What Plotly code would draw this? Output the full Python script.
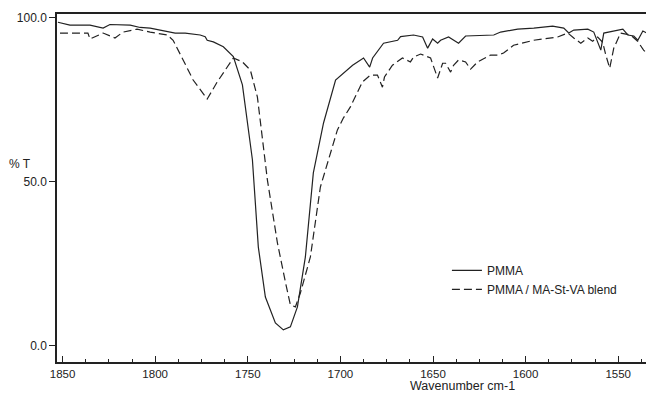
import plotly.graph_objects as go

# PMMA (solid)
pmma_wn = [1852.5, 1846.0, 1835.2, 1828.1, 1824.4, 1813.5, 1808.1, 1802.7, 1794.6, 1789.2,
           1783.8, 1775.7, 1773.0, 1771.9, 1768.6, 1763.2, 1757.8, 1752.9, 1747.5, 1744.3,
           1740.5, 1735.1, 1730.8, 1727.0, 1723.2, 1718.9, 1714.6, 1709.1, 1702.6, 1693.4,
           1687.5, 1684.2, 1682.6, 1676.7, 1669.1, 1667.5, 1660.5, 1655.6, 1652.9, 1650.2,
           1647.5, 1645.9, 1641.6, 1636.2, 1632.4, 1617.2, 1613.5, 1604.3, 1595.6, 1585.4,
           1579.4, 1576.7, 1574.0, 1566.4, 1563.2, 1559.4, 1557.8, 1550.2, 1547.5, 1544.8,
           1541.6, 1539.4, 1536.7, 1534.6]
pmma_t = [98.6, 97.7, 97.7, 96.8, 97.9, 97.7, 97.0, 96.8, 95.9, 95.3,
          95.3, 94.7, 94.2, 93.1, 92.6, 91.1, 88.1, 79.5, 56.7, 30.1,
          14.9, 7.0, 4.9, 5.8, 11.9, 27.1, 52.7, 67.9, 81.0, 85.5,
          87.7, 84.9, 87.7, 92.2, 93.1, 94.2, 94.7, 94.1, 90.7, 93.5,
          92.2, 93.1, 94.1, 92.2, 94.4, 94.7, 95.6, 96.5, 96.8, 97.4,
          96.8, 95.3, 96.2, 96.5, 95.6, 90.1, 95.3, 96.2, 96.5, 94.7,
          94.4, 93.1, 95.9, 95.3]

# PMMA / MA-St-VA blend (dashed)
blend_wn = [1851.4, 1836.3, 1835.2, 1828.1, 1821.7, 1817.3, 1809.8, 1802.7, 1793.5, 1790.3,
            1784.9, 1779.5, 1771.9, 1766.5, 1757.8, 1752.9, 1748.6, 1744.8, 1739.4, 1734.0,
            1729.6, 1727.0, 1724.3, 1721.6, 1716.2, 1710.8, 1701.6, 1698.4, 1694.6, 1688.1,
            1683.8, 1680.0, 1677.3, 1676.2, 1671.9, 1666.5, 1662.2, 1660.5, 1656.7, 1651.3,
            1647.5, 1644.8, 1643.2, 1640.5, 1638.9, 1636.2, 1632.4, 1629.7, 1625.9, 1618.9,
            1615.1, 1611.9, 1606.5, 1595.6, 1582.7, 1577.2, 1574.0, 1570.2, 1566.4, 1563.8,
            1561.1, 1558.4, 1556.7, 1554.6, 1552.4, 1548.7, 1543.3, 1539.5, 1536.3, 1534.6]
blend_t = [95.3, 95.3, 93.5, 95.3, 93.8, 95.6, 96.5, 95.6, 94.7, 93.1,
           87.1, 81.0, 75.2, 80.4, 87.7, 86.5, 84.0, 75.8, 50.5, 31.4,
           19.2, 12.5, 11.9, 16.1, 27.1, 48.4, 65.8, 69.4, 72.8, 80.4,
           82.5, 82.5, 78.8, 81.9, 85.5, 87.7, 86.5, 88.0, 88.9, 87.7,
           81.6, 86.1, 86.1, 83.4, 85.5, 87.1, 86.5, 84.3, 86.5, 88.6,
           88.6, 89.2, 91.6, 93.1, 94.1, 95.3, 93.8, 92.2, 93.8, 92.8,
           94.1, 92.5, 88.6, 84.6, 90.7, 95.3, 94.7, 92.8, 90.1, 89.2]

x_ticks = [1850, 1800, 1750, 1700, 1650, 1600, 1550]
y_ticks = [0, 50, 100]
y_tick_text = ["0.0", "50.0", "100.0"]

ink = "#222222"
fam = "Liberation Sans, Arial, sans-serif"
fnt = dict(family=fam, size=12, color=ink)
xfnt = dict(family=fam, size=11.5, color=ink)

fig = go.Figure()
fig.add_trace(go.Scatter(x=pmma_wn, y=pmma_t, mode="lines", name="PMMA",
                         line=dict(color=ink, width=1.2)))
fig.add_trace(go.Scatter(x=blend_wn, y=blend_t, mode="lines", name="PMMA / MA-St-VA blend",
                         line=dict(color=ink, width=1.2, dash="8px,4px")))

fig.update_layout(
    width=646, height=393,
    margin=dict(l=57, r=0, t=14, b=31),
    paper_bgcolor="white", plot_bgcolor="white",
    font=fnt,
    showlegend=True,
    legend=dict(x=0.662, y=0.305, xanchor="left", yanchor="top",
                bgcolor="rgba(0,0,0,0)", font=fnt, itemwidth=30, tracegroupgap=4),
    xaxis=dict(range=[1853.0, 1535.0], tickvals=x_ticks, ticks="inside", ticklen=6,
               tickcolor=ink, showgrid=False, zeroline=False, showline=True, linecolor=ink,
               linewidth=1.5, mirror=True,
               minor=dict(dtick=12.5, ticks="inside", ticklen=3, tickcolor=ink),
               tickfont=xfnt),
    yaxis=dict(range=[-4.9, 101.1], tickvals=y_ticks, ticktext=y_tick_text, ticks="outside",
               ticklen=6, tickcolor=ink, showgrid=False, zeroline=False, showline=True,
               linecolor=ink, linewidth=1.5, tickfont=fnt),
    annotations=[
        dict(text="% T", xref="paper", yref="paper", x=-0.04, y=0.57,
             xanchor="right", yanchor="middle", showarrow=False, font=fnt),
        dict(text="Wavenumber cm-1", xref="paper", yref="paper", x=0.688, y=-0.068,
             xanchor="center", yanchor="middle", showarrow=False,
             font=dict(family=fam, size=12.5, color=ink)),
    ],
)

fig.write_html("out.html", config={"displayModeBar": False},
               post_script="document.body.style.margin='0';document.body.style.padding='0';")
